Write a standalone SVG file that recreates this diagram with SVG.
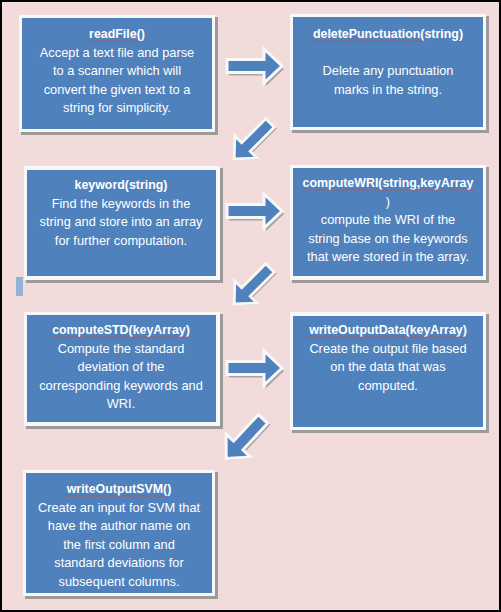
<svg xmlns="http://www.w3.org/2000/svg" width="501" height="612" viewBox="0 0 501 612">
<style>
.bg{fill:#f2dcdb}
.frame{fill:none;stroke:#000;stroke-width:2}
.sh{fill:#9c9a9a}
.wb{fill:#f8f8f8}
.bl{fill:#4f81bd}
.t{font-family:"Liberation Sans",Arial,sans-serif;font-size:12.8px;fill:#fff;text-anchor:middle}
.b{font-weight:bold;font-size:12.4px}
.ash{fill:#a8a4a4}
.arr{fill:#4f81bd;stroke:#f8f8f8;stroke-width:3;stroke-linejoin:miter}
</style>
<defs>
<path id="ar" d="M0,-6.5 H37 V-17 L55,0 L37,17 V6.5 H0 Z"/>
<pattern id="wave" width="3" height="2" patternUnits="userSpaceOnUse">
<path d="M0,1.8 L0.75,0.4 L1.5,1.8 L2.25,0.4 L3,1.8" fill="none" stroke="#c84848" stroke-width="0.45"/>
</pattern>
</defs>
<rect class="bg" x="0" y="0" width="501" height="612"/>
<rect class="frame" x="1" y="1" width="499" height="610"/>
<rect x="16" y="277" width="7" height="19" fill="#95b3d7"/>

<g id="connectors">
<g transform="translate(227,66)"><use href="#ar" class="ash" transform="translate(2,3)"/><use href="#ar" class="arr"/></g>
<g transform="translate(227,211)"><use href="#ar" class="ash" transform="translate(2,3)"/><use href="#ar" class="arr"/></g>
<g transform="translate(227,368)"><use href="#ar" class="ash" transform="translate(2,3)"/><use href="#ar" class="arr"/></g>
<g transform="translate(270,123) rotate(135) scale(0.92)"><use href="#ar" class="ash" transform="translate(-1,-3)"/><use href="#ar" class="arr"/></g>
<g transform="translate(270,268) rotate(135) scale(0.92)"><use href="#ar" class="ash" transform="translate(-1,-3)"/><use href="#ar" class="arr"/></g>
<g transform="translate(263,419) rotate(133) scale(0.98)"><use href="#ar" class="ash" transform="translate(-1,-3)"/><use href="#ar" class="arr"/></g>
</g>

<g id="readFile">
<rect class="sh" x="21" y="17" width="197" height="118"/>
<rect class="wb" x="19" y="15" width="196" height="117"/>
<rect class="bl" x="22" y="18" width="190" height="111"/>
<text class="t" x="117" y="38"><tspan class="b">readFile()</tspan><tspan x="117" dy="18.5">Accept a text file and parse</tspan><tspan x="117" dy="18.5">to a scanner which will</tspan><tspan x="117" dy="18.5">convert the given text to a</tspan><tspan x="117" dy="18.5">string for simplicity.</tspan></text>
<rect x="89" y="40" width="48" height="2" fill="url(#wave)"/>
</g>

<g id="deletePunctuation">
<rect class="sh" x="292" y="16" width="197" height="117"/>
<rect class="wb" x="290" y="14" width="196" height="116"/>
<rect class="bl" x="293" y="17" width="190" height="110"/>
<text class="t" x="388" y="38"><tspan class="b">deletePunctuation(string)</tspan><tspan x="388" y="75">Delete any punctuation</tspan><tspan x="388" dy="18.5">marks in the string.</tspan></text>
<rect x="311" y="40" width="114" height="2" fill="url(#wave)"/>
</g>

<g id="keyword">
<rect class="sh" x="26" y="168" width="197" height="115"/>
<rect class="wb" x="24" y="166" width="196" height="114"/>
<rect class="bl" x="27" y="170" width="189" height="106"/>
<text class="t" x="121" y="189"><tspan class="b">keyword(string)</tspan><tspan x="121" dy="18.5">Find the keywords in the</tspan><tspan x="121" dy="18.5">string and store into an array</tspan><tspan x="121" dy="18.5">for further computation.</tspan></text>
</g>

<g id="computeWRI">
<rect class="sh" x="292" y="167" width="197" height="116"/>
<rect class="wb" x="290" y="165" width="196" height="115"/>
<rect class="bl" x="293" y="168" width="190" height="108"/>
<text class="t" x="388" y="187"><tspan class="b">computeWRI(string,keyArray</tspan><tspan x="388" dy="18.5">)</tspan><tspan x="388" dy="18.5">compute the WRI of the</tspan><tspan x="388" dy="18.5">string base on the keywords</tspan><tspan x="388" dy="18.5">that were stored in the array.</tspan></text>
<rect x="302" y="189" width="172" height="2" fill="url(#wave)"/>
</g>

<g id="computeSTD">
<rect class="sh" x="26" y="314" width="197" height="115"/>
<rect class="wb" x="24" y="312" width="196" height="114"/>
<rect class="bl" x="27" y="315" width="189" height="107"/>
<text class="t" x="121" y="334"><tspan class="b">computeSTD(keyArray)</tspan><tspan x="121" dy="18.5">Compute the standard</tspan><tspan x="121" dy="18.5">deviation of the</tspan><tspan x="121" dy="18.5">corresponding keywords and</tspan><tspan x="121" dy="18.5">WRI.</tspan></text>
<rect x="52" y="336" width="138" height="2" fill="url(#wave)"/>
</g>

<g id="writeOutputData">
<rect class="sh" x="292" y="314" width="197" height="119"/>
<rect class="wb" x="290" y="312" width="196" height="118"/>
<rect class="bl" x="293" y="316" width="190" height="111"/>
<text class="t" x="388" y="334"><tspan class="b">writeOutputData(keyArray)</tspan><tspan x="388" dy="18.5">Create the output file based</tspan><tspan x="388" dy="18.5">on the data that was</tspan><tspan x="388" dy="18.5">computed.</tspan></text>
<rect x="305" y="336" width="160" height="2" fill="url(#wave)"/>
</g>

<g id="writeOutputSVM">
<rect class="sh" x="25" y="472" width="193" height="127"/>
<rect class="wb" x="23" y="470" width="192" height="126"/>
<rect class="bl" x="26" y="473" width="186" height="120"/>
<text class="t" x="119" y="493"><tspan class="b">writeOutputSVM()</tspan><tspan x="119" dy="18.5">Create an input for SVM that</tspan><tspan x="119" dy="18.5">have the author name on</tspan><tspan x="119" dy="18.5">the first column and</tspan><tspan x="119" dy="18.5">standard deviations for</tspan><tspan x="119" dy="18.5">subsequent columns.</tspan></text>
<rect x="64" y="495" width="102" height="2" fill="url(#wave)"/>
</g>
</svg>
